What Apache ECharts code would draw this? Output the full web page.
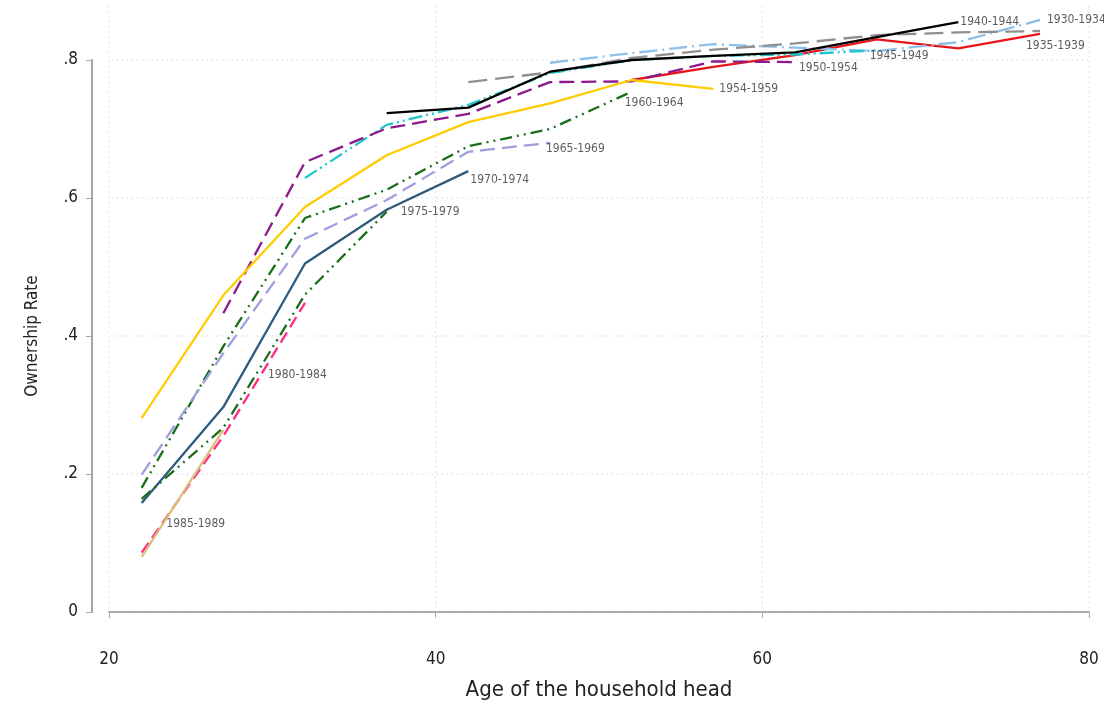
<!DOCTYPE html>
<html><head><meta charset="utf-8">
<script src="https://cdn.jsdelivr.net/npm/echarts@6/dist/echarts.min.js"></script>
<style>html,body{margin:0;padding:0;background:#fff}#c{width:1104px;height:707px}</style>
</head><body><div id="c"></div>
<script>
// ---- data ----
const ages = [22, 27, 32, 37, 42, 47, 52, 57, 62, 67, 72, 77];
const xTicks = [20, 40, 60, 80];
const yTicks = [0, 0.2, 0.4, 0.6, 0.8];
// values by age (null = not observed)
const c1985 = [0.080, 0.264, null, null, null, null, null, null, null, null, null, null];
const c1980 = [0.086, 0.255, 0.448, null, null, null, null, null, null, null, null, null];
const c1975 = [0.164, 0.267, 0.460, 0.580, null, null, null, null, null, null, null, null];
const c1970 = [0.158, 0.297, 0.505, 0.583, 0.639, null, null, null, null, null, null, null];
const c1965 = [0.199, 0.375, 0.541, 0.597, 0.667, 0.680, null, null, null, null, null, null];
const c1960 = [0.180, 0.385, 0.571, 0.612, 0.675, 0.700, 0.754, null, null, null, null, null];
const c1954 = [0.281, 0.459, 0.587, 0.662, 0.710, 0.737, 0.771, 0.758, null, null, null, null];
const c1950 = [null, 0.433, 0.652, 0.701, 0.722, 0.768, 0.769, 0.798, 0.797, null, null, null];
const c1945 = [null, null, 0.629, 0.706, 0.735, 0.781, 0.800, 0.806, 0.808, 0.814, null, null];
const c1940 = [null, null, null, 0.723, 0.731, 0.783, 0.800, 0.806, 0.811, 0.833, 0.855, null];
const c1935 = [null, null, null, null, 0.768, 0.782, 0.803, 0.815, 0.824, 0.836, 0.840, 0.842];
const c1930 = [null, null, null, null, null, 0.796, 0.810, 0.823, 0.818, 0.813, 0.826, 0.858];
const cRed  = [null, null, null, null, null, null, 0.771, 0.790, 0.807, 0.830, 0.817, 0.838];

// ---- styles ----
const FONT = '"DejaVu Sans Condensed", "DejaVu Sans", sans-serif';
const STRETCH = 'condensed';
const cohorts = [
  {name: 'cohort-red', vals: cRed, color: '#e8161b', type: 'solid', label: null},
  {name: '1930-1934', vals: c1930, color: '#8cc0ea', type: [18, 5, 2, 5], label: [7, 0]},
  {name: '1935-1939', vals: c1935, color: '#8f8f8f', type: [19, 8], label: [-14, 15]},
  {name: '1945-1949', vals: c1945, color: '#1fc6cc', type: [14, 4, 2, 4, 2, 4], label: [-7, 6]},
  {name: '1940-1944', vals: c1940, color: '#000000', type: 'solid', label: [2, 0]},
  {name: '1950-1954', vals: c1950, color: '#8b1a8b', type: [15, 7], label: [4, 6]},
  {name: '1954-1959', vals: c1954, color: '#ffcc00', type: 'solid', label: [6, 0]},
  {name: '1960-1964', vals: c1960, color: '#1a6e1a', type: [12, 5, 2, 5, 2, 5], label: [-7, 11]},
  {name: '1965-1969', vals: c1965, color: '#9f9fe0', type: [15, 7], label: [-4, 6]},
  {name: '1970-1974', vals: c1970, color: '#2e5b7d', type: 'solid', label: [2, 9]},
  {name: '1975-1979', vals: c1975, color: '#1a6e1a', type: [12, 5, 2, 5, 2, 5], label: [14, 0]},
  {name: '1980-1984', vals: c1980, color: '#ff2a86', type: [12, 6], label: [-37, 72]},
  {name: '1985-1989', vals: c1985, color: '#d8c07a', type: 'solid', label: [-57, 94]}
];

function pairs(vals) {
  const out = [];
  vals.forEach((v, i) => { if (v !== null) out.push([ages[i], v]); });
  return out;
}

const series = [];
// grid lines (extend slightly beyond the axis range like the original plot region)
const gx0 = 19.25, gx1 = 80.7, gy0 = -0.008, gy1 = 0.878;
const gridStyle = {color: '#c4c4c4', width: 1, type: [1, 4]};
yTicks.forEach(t => series.push({type: 'line', data: [[gx0, t], [gx1, t]], clip: false, symbol: 'none', silent: true, lineStyle: gridStyle, z: 1}));
xTicks.forEach(t => series.push({type: 'line', data: [[t, gy0], [t, gy1]], clip: false, symbol: 'none', silent: true, lineStyle: gridStyle, z: 1}));

cohorts.forEach(c => {
  series.push({
    name: c.name, type: 'line', data: pairs(c.vals), clip: false, symbol: 'none',
    lineStyle: {color: c.color, width: 2.3, type: c.type}, z: 3
  });
});

const labelData = [];
cohorts.forEach(c => {
  if (!c.label) return;
  const d = pairs(c.vals);
  const last = d[d.length - 1];
  labelData.push({value: last, name: c.name, label: {position: c.label}});
});
series.push({
  type: 'scatter', data: labelData, clip: false, symbolSize: 0.01, silent: true, z: 5,
  itemStyle: {color: 'rgba(0,0,0,0)'},
  label: {show: true, formatter: p => p.name, align: 'left', verticalAlign: 'middle',
    fontFamily: FONT, fontWeight: STRETCH, fontSize: 12, color: '#333333'}
});

const chart = echarts.init(document.getElementById('c'), null, {renderer: 'canvas'});
chart.setOption({
  animation: false,
  backgroundColor: '#ffffff',
  grid: {left: 109, right: 15, top: 60, bottom: 95, containLabel: false},
  xAxis: {
    type: 'value', min: 20, max: 80, interval: 20, offset: 17,
    name: 'Age of the household head', nameLocation: 'middle', nameGap: 50,
    nameTextStyle: {fontFamily: FONT, fontWeight: STRETCH, fontSize: 22, color: '#222'},
    axisLine: {lineStyle: {color: '#a6a6a6', width: 2}},
    axisTick: {show: true, length: 6, lineStyle: {color: '#a6a6a6', width: 1}},
    axisLabel: {fontFamily: FONT, fontWeight: STRETCH, fontSize: 17, color: '#222', margin: 22},
    splitLine: {show: false}
  },
  yAxis: {
    type: 'value', min: 0, max: 0.8, interval: 0.2, offset: 17,
    name: 'Ownership Rate', nameLocation: 'middle', nameGap: 51, nameRotate: 90,
    nameTextStyle: {fontFamily: FONT, fontWeight: STRETCH, fontSize: 17, color: '#222'},
    axisLine: {show: true, lineStyle: {color: '#a6a6a6', width: 2}},
    axisTick: {show: true, length: 6, lineStyle: {color: '#a6a6a6', width: 1}},
    axisLabel: {fontFamily: FONT, fontWeight: STRETCH, fontSize: 17, color: '#222', margin: 14,
      formatter: v => v === 0 ? '0' : String(+v.toFixed(1)).replace(/^0\./, '.')},
    splitLine: {show: false}
  },
  series: series
});
</script>
</body></html>
